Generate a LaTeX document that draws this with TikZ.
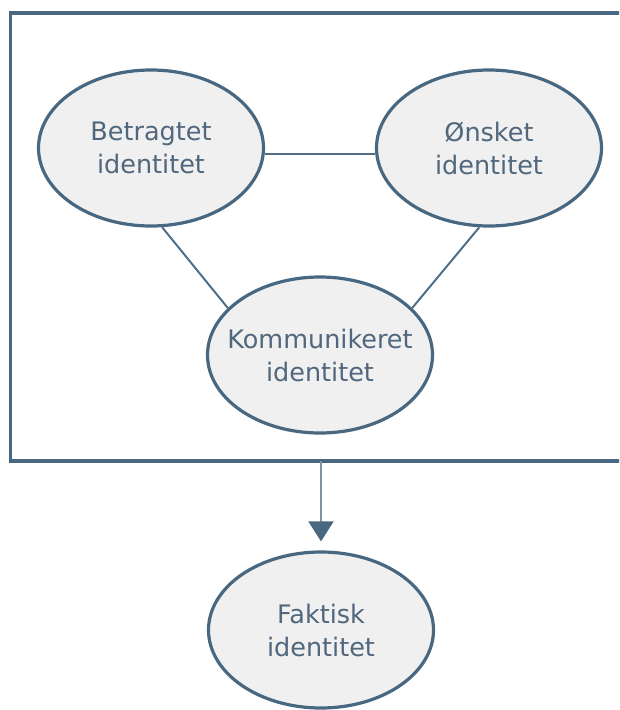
\documentclass[tikz,border=0pt]{standalone}
\usepackage{fontspec}
\setmainfont{DejaVu Sans}
\usetikzlibrary{arrows.meta,shapes.geometric}

\definecolor{edgeblue}{RGB}{72,104,130}
\definecolor{linkblue}{RGB}{80,110,135}
\definecolor{arrowline}{RGB}{125,148,168}
\definecolor{textblue}{RGB}{80,103,125}
\definecolor{bubble}{RGB}{240,240,240}

\tikzset{
  ident/.style={ellipse, draw=edgeblue, line width=3.2pt, fill=bubble,
    minimum width=225pt, minimum height=156pt, inner xsep=-30pt, inner ysep=0pt,
    align=center, text=textblue, font=\fontsize{25.5}{33}\selectfont},
  link/.style={draw=linkblue, line width=2pt},
  frameline/.style={draw=edgeblue, line width=3.5pt},
  flow/.style={draw=arrowline, line width=2pt,
    -{Triangle[width=25pt,length=20pt,color=edgeblue]}, shorten >=9pt}
}

\begin{document}
\begin{tikzpicture}[x=1pt,y=-1pt]
  \useasboundingbox (0,0) rectangle (619,710);
  \clip (0,0) rectangle (619,710);

  % enclosing frame, open towards the right
  \draw[frameline] (640,13) -- (10.5,13) -- (10.5,461) -- (640,461);

  % identity bubbles
  \node[ident] (b) at (151,148) {Betragtet\\identitet};
  \node[ident] (o) at (489,148) {Ønsket\\identitet};
  \node[ident] (k) at (320,355) {Kommunikeret\\identitet};
  \node[ident] (f) at (321,630) {Faktisk\\identitet};

  % links inside the frame
  \draw[link] (b.-3) -- (o.183);
  \draw[link] (b.-82) -- (k.153);
  \draw[link] (o.-97) -- (k.27);

  % arrow from the frame down to the result
  \coordinate (fb) at (321,461);
  \draw[flow] (fb) -- (fb |- f.north);
\end{tikzpicture}
\end{document}
